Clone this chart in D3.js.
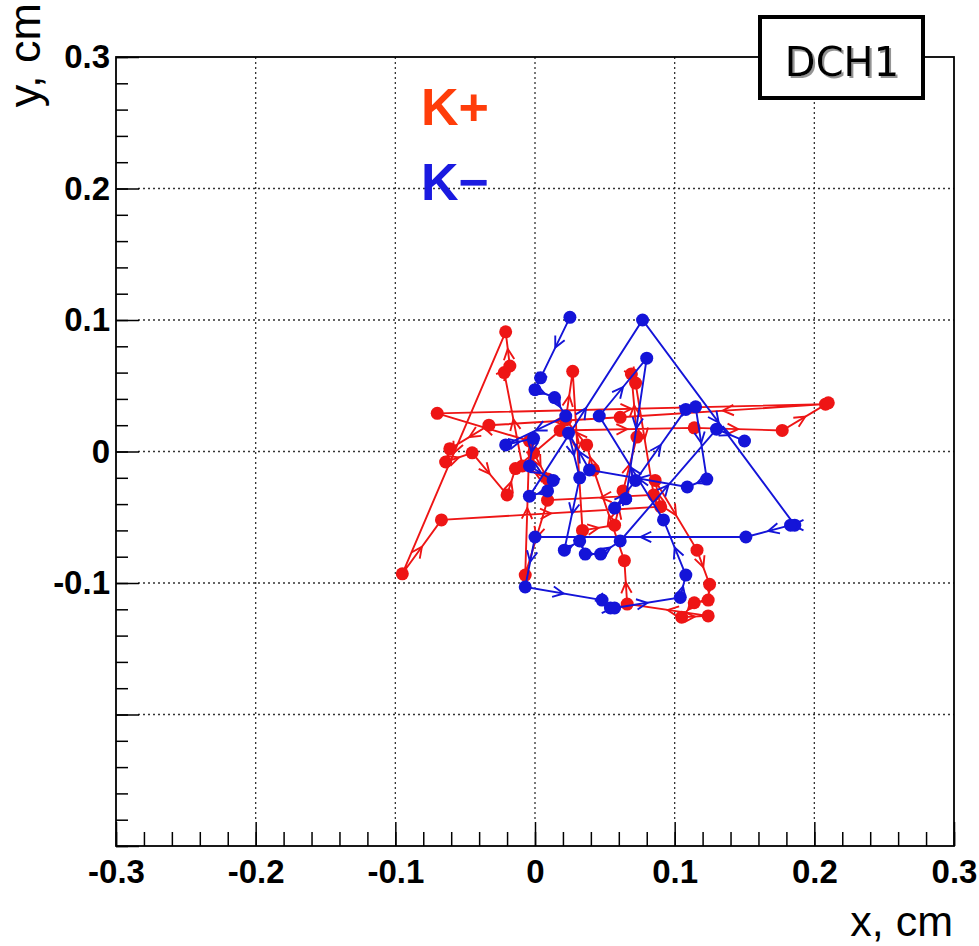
<!DOCTYPE html>
<html>
<head>
<meta charset="utf-8">
<script src="https://cdn.jsdelivr.net/npm/d3@7"></script>
<style>
  html, body { margin: 0; padding: 0; background: #fff; }
  svg { display: block; }
</style>
</head>
<body>
<div id="chart"></div>
<script>
// ---- data (cm) ----
const redX = [-0.001, 0.009, -0.009, -0.022, -0.018, -0.021, -0.095, -0.067, 0.090, 0.086,
  0.116, 0.125, 0.124, 0.114, 0.105, 0.124, 0.066, 0.064, 0.042, 0.037,
  0.022, 0.027, 0.034, 0.057, 0.063, 0.073, 0.069, 0.072, 0.085, 0.009,
  -0.007, -0.004, -0.070, 0.208, 0.061, -0.033, -0.061, -0.064, -0.045, -0.020,
  -0.014, 0.018, 0.114, 0.177, 0.210];
const redY = [-0.001, -0.021, -0.011, 0.060, 0.065, 0.091, -0.093, -0.052, -0.042, -0.022,
  -0.075, -0.101, -0.113, -0.115, -0.126, -0.125, -0.116, -0.083, -0.014, 0.005,
  0.024, 0.061, -0.060, -0.056, -0.030, 0.011, 0.059, 0.052, -0.033, -0.037,
  -0.094, 0.008, 0.029, 0.036, 0.026, 0.020, 0.002, -0.008, -0.001, -0.033,
  -0.013, 0.016, 0.018, 0.016, 0.037];
const blueX = [0.025, 0.004, 0.000, 0.014, 0.022, -0.021, -0.001, -0.004, 0.013, 0.009,
  -0.004, 0.077, 0.186, 0.183, 0.151, 0.000, -0.007, 0.048, 0.054, 0.057,
  0.104, 0.108, 0.092, 0.046, 0.080, 0.065, 0.057, 0.072, 0.108, 0.115,
  0.123, 0.109, 0.039, 0.024, 0.032, 0.021, 0.032, 0.036, 0.047, 0.061,
  0.130, 0.150];
const blueY = [0.102, 0.056, 0.047, 0.041, 0.027, 0.005, 0.010, -0.011, -0.022, -0.030,
  -0.034, 0.100, -0.056, -0.056, -0.065, -0.065, -0.103, -0.113, -0.119, -0.119,
  -0.111, -0.094, -0.052, 0.027, 0.071, -0.036, -0.043, -0.022, 0.032, 0.034,
  -0.021, -0.027, -0.014, 0.014, -0.020, -0.075, -0.068, -0.078, -0.078, -0.068,
  0.017, 0.008];

const xMajor = [-0.3, -0.2, -0.1, 0, 0.1, 0.2, 0.3];
const yMajor = [0.3, 0.2, 0.1, 0, -0.1, -0.2, -0.3];
const yLabelled = [0.3, 0.2, 0.1, 0, -0.1];
const gridX = [-0.2, -0.1, 0, 0.1, 0.2];
const gridY = [0.2, 0.1, 0, -0.1, -0.2];
const minorTicks = d3.range(-15, 16).map(i => +(i * 0.02).toFixed(2));

const seriesNames = ["K+", "K\u2212"];
const titleText = "DCH1";

// ---- layout ----
const W = 979, H = 946;
const L = 116, R = 954, T = 57, B = 846;
const redCol = "#ee1515", blueCol = "#1414d8";

const svg = d3.select("#chart").append("svg").attr("width", W).attr("height", H);
const defs = svg.append("defs");
defs.append("filter").attr("id", "shadow").attr("x", "-10%").attr("y", "-10%")
  .attr("width", "130%").attr("height", "130%")
  .append("feDropShadow").attr("dx", 2).attr("dy", 2).attr("stdDeviation", 0.6)
  .attr("flood-color", "#888").attr("flood-opacity", 0.9);

const x = d3.scaleLinear().domain([-0.3, 0.3]).range([L, R]);
const y = d3.scaleLinear().domain([-0.3, 0.3]).range([B, T]);
const fmt = v => String(+v.toFixed(1));

// grid
const grid = svg.append("g").attr("stroke", "#333").attr("stroke-width", 1.3)
  .attr("stroke-dasharray", "2,3");
grid.selectAll(".gx").data(gridX).join("line")
  .attr("x1", d => x(d)).attr("x2", d => x(d)).attr("y1", T).attr("y2", B - 24);
grid.selectAll(".gy").data(gridY).join("line")
  .attr("y1", d => y(d)).attr("y2", d => y(d)).attr("x1", L + 22).attr("x2", R);

// frame
svg.append("rect").attr("x", L).attr("y", T).attr("width", R - L).attr("height", B - T)
  .attr("fill", "none").attr("stroke", "#000").attr("stroke-width", 1.8);

// axes
const fontTick = "'Liberation Sans', Arial, sans-serif";
const xAxisMinor = d3.axisBottom(x).tickValues(minorTicks).tickSize(-14).tickFormat("");
const xAxisMajor = d3.axisBottom(x).tickValues(xMajor).tickSize(-24).tickPadding(14).tickFormat(fmt);
const yAxisMinor = d3.axisLeft(y).tickValues(minorTicks).tickSize(-12).tickFormat("");
const yAxisMajor = d3.axisLeft(y).tickValues(yMajor).tickSize(-23).tickPadding(6)
  .tickFormat(v => yLabelled.some(l => Math.abs(l - v) < 1e-9) ? fmt(v) : "");

function style(g) {
  g.select(".domain").remove();
  g.selectAll("line").attr("stroke", "#000").attr("stroke-width", 1.5);
  g.selectAll("text").attr("font-family", fontTick).attr("font-weight", "bold")
    .attr("font-size", 33).attr("fill", "#000");
}
svg.append("g").attr("transform", `translate(0,${B})`).call(xAxisMinor).call(style);
svg.append("g").attr("transform", `translate(0,${B})`).call(xAxisMajor).call(style);
svg.append("g").attr("transform", `translate(${L},0)`).call(yAxisMinor).call(style);
svg.append("g").attr("transform", `translate(${L},0)`).call(yAxisMajor).call(style);

// axis titles
svg.append("text").attr("x", 953).attr("y", 936).attr("text-anchor", "end")
  .attr("font-family", "'Liberation Sans', Arial, sans-serif").attr("font-size", 43)
  .text("x, cm");
svg.append("text").attr("transform", "translate(40,3) rotate(-90)").attr("text-anchor", "end")
  .attr("font-family", "'Liberation Sans', Arial, sans-serif").attr("font-size", 45)
  .text("y, cm");

// tracks
function drawTrack(xs, ys, col) {
  const pts = xs.map((v, i) => [x(v), y(ys[i])]);
  const g = svg.append("g");
  g.append("path").attr("d", d3.line()(pts)).attr("fill", "none")
    .attr("stroke", col).attr("stroke-width", 1.9);
  const segs = d3.pairs(pts);
  g.selectAll(".arr").data(segs).join("path")
    .attr("fill", "none").attr("stroke", col).attr("stroke-width", 1.9)
    .attr("d", ([a, b]) => {
      const mx = (a[0] + b[0]) / 2, my = (a[1] + b[1]) / 2;
      const ang = Math.atan2(b[1] - a[1], b[0] - a[0]);
      const len = 12, spread = 0.45;
      const p1 = [mx - len * Math.cos(ang - spread), my - len * Math.sin(ang - spread)];
      const p2 = [mx - len * Math.cos(ang + spread), my - len * Math.sin(ang + spread)];
      return `M${p1[0]},${p1[1]}L${mx},${my}L${p2[0]},${p2[1]}`;
    });
  g.selectAll("circle").data(pts).join("circle")
    .attr("cx", d => d[0]).attr("cy", d => d[1]).attr("r", 6.5).attr("fill", col);
}
drawTrack(redX, redY, redCol);
drawTrack(blueX, blueY, blueCol);

// legend
svg.append("text").attr("x", 421).attr("y", 125).attr("font-family", "'Liberation Sans', Arial, sans-serif")
  .attr("font-weight", "bold").attr("font-size", 52).attr("fill", "#ff3d0a").text(seriesNames[0]);
svg.append("text").attr("x", 421).attr("y", 200).attr("font-family", "'Liberation Sans', Arial, sans-serif")
  .attr("font-weight", "bold").attr("font-size", 52).attr("fill", "#1a1ae0").text(seriesNames[1]);

// title box
svg.append("rect").attr("x", 760).attr("y", 17).attr("width", 163).attr("height", 81)
  .attr("fill", "#fff").attr("stroke", "#000").attr("stroke-width", 4);
svg.append("text").attr("x", 842).attr("y", 76).attr("text-anchor", "middle")
  .attr("font-family", "'DejaVu Sans', Verdana, sans-serif").attr("font-size", 40)
  .attr("fill", "#000").attr("filter", "url(#shadow)").text(titleText);
</script>
</body>
</html>
